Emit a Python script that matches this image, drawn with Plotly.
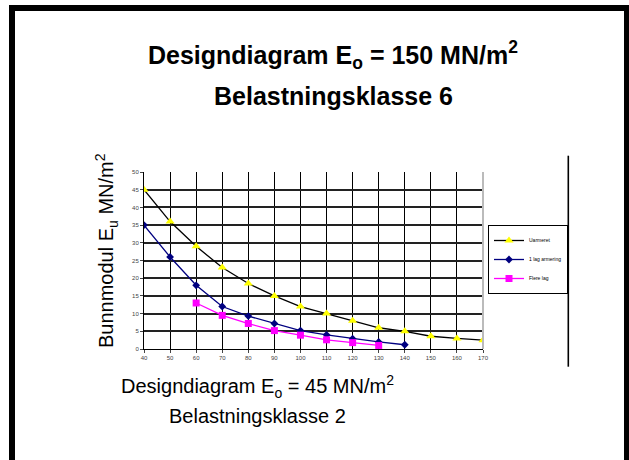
import plotly.graph_objects as go

x_vals = [40, 50, 60, 70, 80, 90, 100, 110, 120, 130, 140, 150, 160, 170]
uarmeret = [45, 36, 29, 23, 18.5, 15, 12, 10, 8, 6, 5, 3.6, 3, 2.5]
x_lag1 = [40, 50, 60, 70, 80, 90, 100, 110, 120, 130, 140]
lag1 = [35, 26, 18, 12, 9.3, 7.2, 5.2, 4.0, 2.9, 2.0, 1.2]
x_flere = [60, 70, 80, 90, 100, 110, 120, 130]
flere = [13, 9.5, 7.2, 5.2, 3.9, 2.6, 1.8, 1.0]

x_ticks = list(range(40, 171, 10))
y_ticks = list(range(0, 51, 5))

FONT = "Liberation Sans, Arial, sans-serif"

fig = go.Figure()
fig.add_trace(go.Scatter(x=x_vals, y=uarmeret, name="Uarmeret", mode="lines+markers",
                         line=dict(color="black", width=1.3),
                         marker=dict(symbol="triangle-up", size=8, color="#ffff00")))
fig.add_trace(go.Scatter(x=x_lag1, y=lag1, name="1 lag armering", mode="lines+markers",
                         line=dict(color="#000080", width=1.3),
                         marker=dict(symbol="diamond", size=6, color="#000080")))
fig.add_trace(go.Scatter(x=x_flere, y=flere, name="Flere lag", mode="lines+markers",
                         line=dict(color="#ff00ff", width=1.3),
                         marker=dict(symbol="square", size=7, color="#ff00ff")))

W, H = 629, 460
L, R, T, B = 144, 146, 172, 111
pw, ph = W - L - R, H - T - B

def px(x):
    return (x - L) / pw

def py(y):
    return (H - B - y) / ph

fig.update_layout(
    width=W, height=H,
    margin=dict(l=L, r=R, t=T, b=B),
    paper_bgcolor="white", plot_bgcolor="white",
    font=dict(family=FONT, color="black"),
    showlegend=True,
    legend=dict(x=px(488), y=py(259.5), xanchor="left", yanchor="middle",
                font=dict(size=5, family=FONT), bordercolor="black", borderwidth=1,
                bgcolor="white", itemwidth=30, tracegroupgap=0),
    xaxis=dict(range=[40, 170], tickvals=x_ticks, showgrid=True, gridcolor="black", gridwidth=1.3,
               showline=True, linecolor="black", linewidth=1, ticks="outside", ticklen=3,
               tickfont=dict(size=6, color="#444"), zeroline=False, fixedrange=True),
    yaxis=dict(range=[0, 50], tickvals=y_ticks, showgrid=True, gridcolor="#222", gridwidth=1.6,
               showline=True, linecolor="black", linewidth=1, ticks="outside", ticklen=3,
               tickfont=dict(size=6, color="#444"), zeroline=False, fixedrange=True),
)

shapes = [
    # outer frame
    dict(type="line", xref="paper", yref="paper", x0=px(12), x1=px(12), y0=py(8), y1=py(480),
         line=dict(color="black", width=6)),
    dict(type="line", xref="paper", yref="paper", x0=px(9), x1=px(640), y0=py(8), y1=py(8),
         line=dict(color="black", width=6)),
    dict(type="line", xref="paper", yref="paper", x0=px(627), x1=px(627), y0=py(5), y1=py(480),
         line=dict(color="black", width=6)),
    # right vertical line
    dict(type="line", xref="paper", yref="paper", x0=px(568.3), x1=px(568.3), y0=py(155.7), y1=py(366.7),
         line=dict(color="black", width=1.6)),
    # plot right border grey
    dict(type="line", xref="paper", yref="paper", x0=1, x1=1, y0=0, y1=1,
         line=dict(color="#bbbbbb", width=2)),
]
fig.update_layout(shapes=shapes)

ann = [
    dict(text="<b>Designdiagram E<sub>o</sub> = 150 MN/m<sup>2</sup></b>", x=px(333), y=py(55),
         font=dict(size=25, family=FONT)),
    dict(text="<b>Belastningsklasse 6</b>", x=px(333), y=py(96), font=dict(size=25, family=FONT)),
    dict(text="Designdiagram E<sub>o</sub> = 45 MN/m<sup>2</sup>", x=px(257), y=py(386),
         font=dict(size=20, family=FONT)),
    dict(text="Belastningsklasse 2", x=px(257), y=py(416), font=dict(size=20, family=FONT)),
    dict(text="Bunnmodul E<sub>u</sub> MN/m<sup>2</sup>", x=px(106), y=py(251), textangle=-90,
         font=dict(size=20, family=FONT)),
]
for a in ann:
    fig.add_annotation(xref="paper", yref="paper", showarrow=False, xanchor="center",
                       yanchor="middle", **a)

fig.write_html("out.html", post_script="document.body.style.margin='0px';",
               config={"displayModeBar": False})
